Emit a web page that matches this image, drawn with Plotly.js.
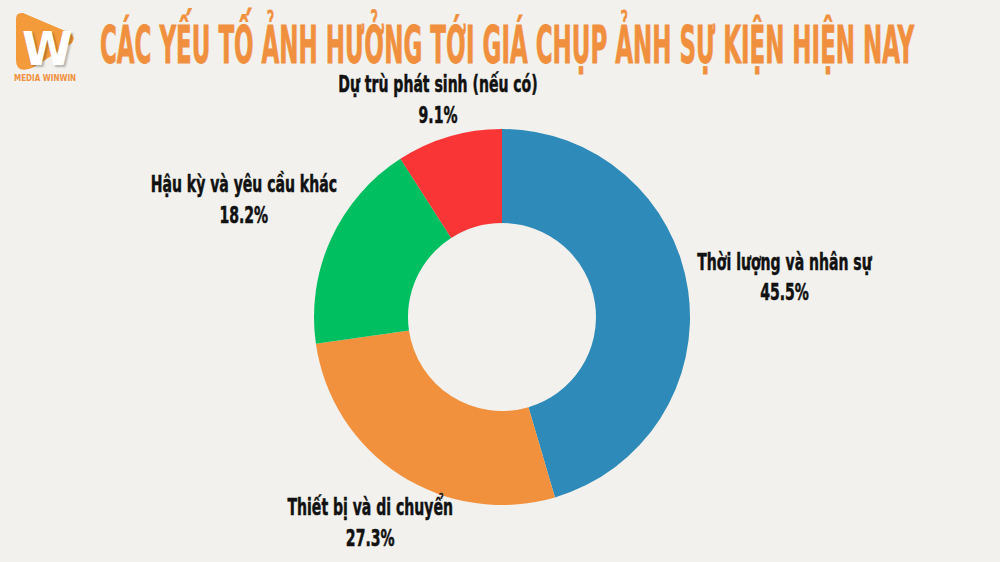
<!DOCTYPE html>
<html>
<head>
<meta charset="utf-8">
<script src="https://cdn.plot.ly/plotly-3.0.1.min.js"></script>
<style>
html,body{margin:0;padding:0;background:#F2F1ED;}
#chart{width:1000px;height:562px;}
</style>
</head>
<body>
<div id="chart"></div>
<script>
const categories = ["Thời lượng và nhân sự", "Thiết bị và di chuyển", "Hậu kỳ và yêu cầu khác", "Dự trù phát sinh (nếu có)"];
const values = [5, 3, 2, 1];
const percentLabels = ["45.5%", "27.3%", "18.2%", "9.1%"];
const colors = ["#2E8AB8", "#F2913D", "#00BF60", "#FA3535"];
const chartTitle = "CÁC YẾU TỐ ẢNH HƯỞNG TỚI GIÁ CHỤP ẢNH SỰ KIỆN HIỆN NAY";
const brand = "MEDIA WINWIN";

const W = 1000, H = 562;
const px = x => x / W;
const py = y => 1 - y / H;
const COND = "DejaVu Sans Condensed, Liberation Sans Narrow, Arial Narrow, sans-serif";

const dom = {x: [px(314), px(690)], y: [py(505), py(129)]};

const trace = {
  type: "pie",
  labels: categories,
  values: values,
  hole: 0.5,
  sort: false,
  direction: "clockwise",
  rotation: 0,
  marker: {colors: colors, line: {width: 0}},
  textinfo: "none",
  domain: dom,
  hoverinfo: "none",
  showlegend: false
};

// pie geometry in pixels (plotly: radius = half of the smaller domain side)
const cxPx = (dom.x[0] + dom.x[1]) / 2 * W;
const cyPx = (1 - (dom.y[0] + dom.y[1]) / 2) * H;
const Rpx = Math.min((dom.x[1] - dom.x[0]) * W, (dom.y[1] - dom.y[0]) * H) / 2;
const total = values.reduce((a, b) => a + b, 0);
let cum = 0;
const dirs = values.map(v => {
  const mid = (cum + v / 2) / total * 2 * Math.PI;
  cum += v;
  return [Math.sin(mid), -Math.cos(mid)];
});

const labelAnns = categories.map((c, i) => ({
  text: c + "<br>" + percentLabels[i],
  x: px(cxPx + dirs[i][0] * Rpx), y: py(cyPx + dirs[i][1] * Rpx),
  xref: "paper", yref: "paper", showarrow: false,
  xanchor: "center", yanchor: "middle", align: "center",
  font: {family: COND, size: 18, color: "#111111", weight: "bold"}
}));

const layout = {
  width: W, height: H,
  margin: {l: 0, r: 0, t: 0, b: 0},
  paper_bgcolor: "#F2F1ED",
  plot_bgcolor: "#F2F1ED",
  showlegend: false,
  title: {
    text: chartTitle,
    font: {family: COND, size: 30, color: "#F0903E", weight: "bold"},
    x: px(100), xanchor: "left", xref: "paper",
    y: py(61), yanchor: "bottom", yref: "paper"
  },
  shapes: [
    {type: "path", xref: "paper", yref: "paper",
     path: "M " + px(16) + "," + py(19) + " Q " + px(16) + "," + py(12) + " " + px(23) + "," + py(13) +
           " L " + px(70) + "," + py(33) + " Q " + px(76) + "," + py(37) + " " + px(72) + "," + py(43) +
           " L " + px(32) + "," + py(68) + " Q " + px(16) + "," + py(74) + " " + px(16) + "," + py(60) + " Z",
     fillcolor: "#F39A3A", line: {width: 0}}
  ],
  annotations: [
    {text: "W", x: px(47), y: py(49), xref: "paper", yref: "paper", showarrow: false,
     font: {family: "DejaVu Sans", size: 46, color: "#FFFFFF", weight: "bold",
            shadow: "2px 2px 2px rgba(0,0,0,0.25)"}, xanchor: "center", yanchor: "middle"},
    {text: brand, x: px(45), y: py(79), xref: "paper", yref: "paper", showarrow: false,
     font: {family: COND, size: 8, color: "#F0903E", weight: "bold"}, xanchor: "center", yanchor: "middle"}
  ].concat(labelAnns)
};

Plotly.newPlot("chart", [trace], layout, {displayModeBar: false, staticPlot: true}).then(function(gd){
  // stretch title to condensed display proportions
  const t = gd.querySelector(".gtitle");
  if (t) {
    const bb = t.getBBox();
    const fs = 30;
    const base = bb.y + bb.height - 0.236 * fs;
    const sx = 815 / bb.width;
    const sy = 37 / (0.729 * fs);
    t.setAttribute("transform", "translate(100,63) scale(" + sx + "," + sy + ") translate(" + (-bb.x) + "," + (-base) + ")");
    t.style.stroke = "#F0903E";
    t.style.strokeWidth = "0.5px";
  }
  // labels: condensed tall look, placed just outside the ring
  const texts = gd.querySelectorAll(".annotation-text");
  const annTexts = Array.from(texts).slice(2);
  const b0 = annTexts[0].getBBox();
  const sxL = 175 / b0.width;
  const syL = 1.3;
  const pad = 11;
  annTexts.forEach((el, i) => {
    const bb = el.getBBox();
    const r = el.getBoundingClientRect();
    const curCx = r.left + r.width / 2, curCy = r.top + r.height / 2;
    const w = bb.width * sxL, h = 52;
    const d = dirs[i];
    const ext = Math.max(Math.abs(d[0]) * w / 2, Math.abs(d[1]) * h / 2) + pad;
    const tx = cxPx + d[0] * (Rpx + ext), ty = cyPx + d[1] * (Rpx + ext);
    const lcx = bb.x + bb.width / 2, lcy = bb.y + bb.height / 2;
    el.setAttribute("transform", "translate(" + (tx - curCx) + "," + (ty - curCy) + ") translate(" + lcx + "," + lcy + ") scale(" + sxL + "," + syL + ") translate(" + (-lcx) + "," + (-lcy) + ")");
    el.style.stroke = "#111111";
    el.style.strokeWidth = "0.4px";
  });
});
</script>
</body>
</html>
